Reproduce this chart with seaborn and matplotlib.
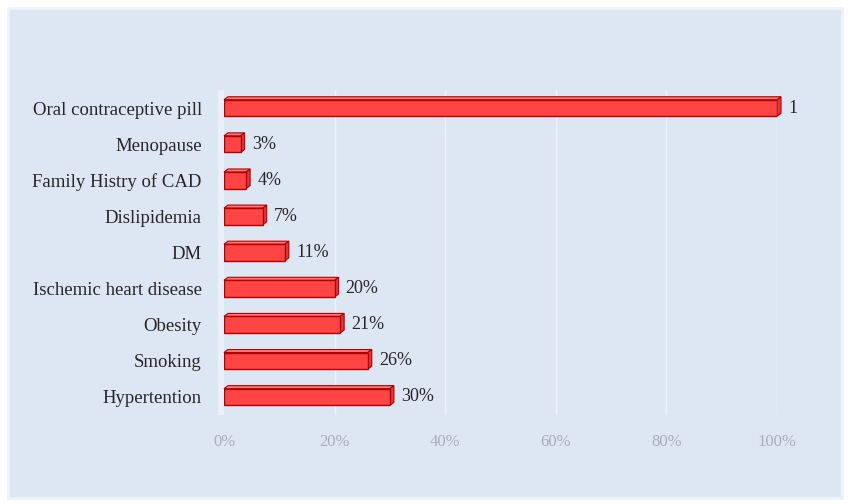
import matplotlib
matplotlib.use("Agg")
import matplotlib.pyplot as plt
import matplotlib.patches as mpatches
import matplotlib.transforms as mtrans
import seaborn as sns
import pandas as pd

categories = ["Oral contraceptive pill", "Menopause", "Family Histry of CAD",
              "Dislipidemia", "DM", "Ischemic heart disease", "Obesity",
              "Smoking", "Hypertention"]
values = [1.00, 0.03, 0.04, 0.07, 0.11, 0.20, 0.21, 0.26, 0.30]
value_labels = ["1", "3%", "4%", "7%", "11%", "20%", "21%", "26%", "30%"]
xticks = [0, 0.2, 0.4, 0.6, 0.8, 1.0]
xtick_labels = ["0%", "20%", "40%", "60%", "80%", "100%"]

df = pd.DataFrame({"factor": categories, "share": values})

sns.set_theme(style="white")
plt.rcParams["font.family"] = ["Liberation Serif", "DejaVu Serif"]

W, H = 853, 504
fig = plt.figure(figsize=(W / 100, H / 100), dpi=100, facecolor="white")
bg = mpatches.Rectangle((8 / W, 6 / H), 834 / W, 490 / H, transform=fig.transFigure,
                        facecolor="#dde7f3", edgecolor="#eef3f9", linewidth=2, zorder=-10)
fig.patches.append(bg)

ax = fig.add_axes([224 / W, (H - 415) / H, 553 / W, 325 / H])
ax.set_facecolor("none")
ax.set_zorder(2)

sns.barplot(data=df, x="share", y="factor", orient="h", color="#ff4444",
            edgecolor="#b00000", linewidth=1.0, width=0.46, saturation=1, ax=ax, zorder=3)

ax.set_xlim(0, 1.0)
ax.set_ylim(8.5, -0.5)
ax.set_xticks(xticks)
ax.set_xticklabels(xtick_labels, color="#a9aeb6", fontsize=12)
ax.tick_params(axis="x", length=0, pad=14)
ax.tick_params(axis="y", length=0, pad=16, labelsize=13.5, labelcolor="#262626")
ax.set_xlabel("")
ax.set_ylabel("")
for s in ax.spines.values():
    s.set_visible(False)
for xt in xticks[1:]:
    ax.axvline(xt, color="#eef3f9", lw=1.0, zorder=1)

bars = [p for p in ax.patches if isinstance(p, mpatches.Rectangle)][:len(values)]

# light "wall" left of zero
wall = mpatches.Rectangle((-0.0108, -0.5), 0.0108, 9.0, transform=ax.transData,
                          facecolor="#eaf0f8", edgecolor="none", clip_on=False, zorder=1)
ax.add_patch(wall)

# pseudo 3D faces
dx, dy = 4, 3
fig.canvas.draw()
off = mtrans.offset_copy(ax.transData, fig=fig, x=dx, y=dy, units="dots")
inv = ax.transData.inverted()
for p in bars:
    x0, y0 = p.get_x(), p.get_y()
    w, h = p.get_width(), p.get_height()
    ytop = min(y0, y0 + h)
    ybot = max(y0, y0 + h)
    pts_top = [ax.transData.transform((x0, ytop)), ax.transData.transform((x0 + w, ytop)),
               off.transform((x0 + w, ytop)), off.transform((x0, ytop))]
    pts_side = [ax.transData.transform((x0 + w, ytop)), ax.transData.transform((x0 + w, ybot)),
                off.transform((x0 + w, ybot)), off.transform((x0 + w, ytop))]
    ax.add_patch(mpatches.Polygon(inv.transform(pts_top), closed=True, facecolor="#ff7b7b",
                                  edgecolor="#b00000", lw=0.8, zorder=2, clip_on=False))
    ax.add_patch(mpatches.Polygon(inv.transform(pts_side), closed=True, facecolor="#e83535",
                                  edgecolor="#b00000", lw=0.8, zorder=2, clip_on=False))

for i, (v, lab) in enumerate(zip(values, value_labels)):
    ax.annotate(lab, xy=(v, i), xytext=(8, 0), textcoords="offset points",
                va="center", ha="left", fontsize=13, color="#262626")

fig.savefig("out.png", dpi=100, facecolor="white")
